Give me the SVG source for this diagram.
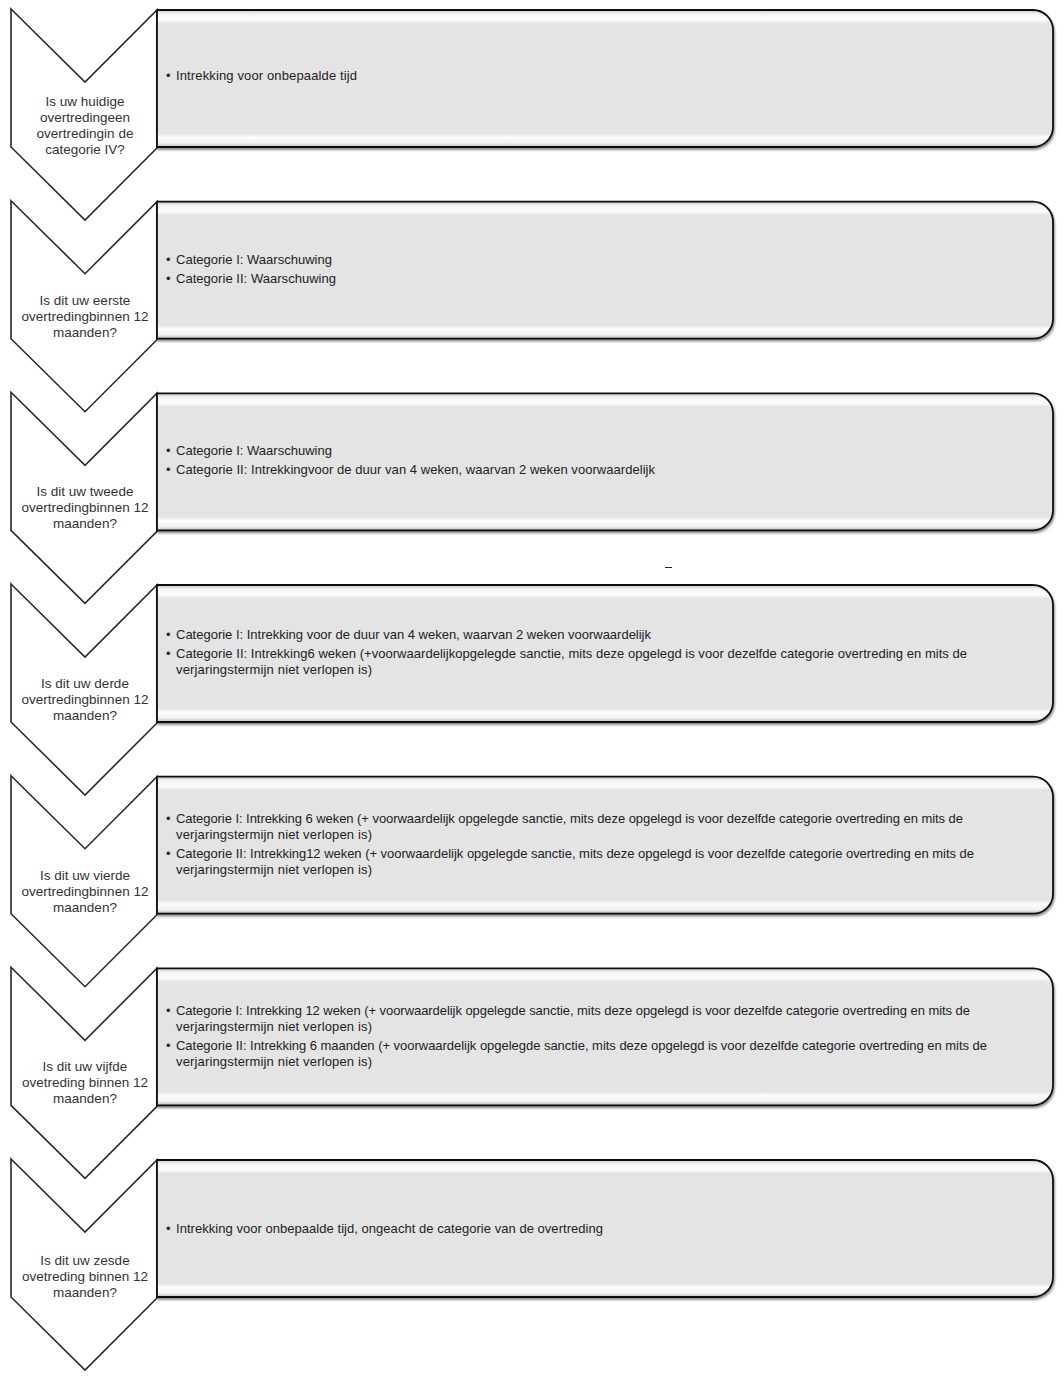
<svg xmlns="http://www.w3.org/2000/svg" width="1063" height="1382" viewBox="0 0 1063 1382">
<defs>
<linearGradient id="bev" x1="0" y1="0" x2="0" y2="1">
<stop offset="0" stop-color="#c8c8c8"/>
<stop offset="0.03" stop-color="#f4f4f4"/>
<stop offset="0.07" stop-color="#fdfdfd"/>
<stop offset="0.1" stop-color="#e4e4e4"/>
<stop offset="0.9" stop-color="#e4e4e4"/>
<stop offset="0.93" stop-color="#fdfdfd"/>
<stop offset="0.97" stop-color="#f2f2f2"/>
<stop offset="1" stop-color="#bdbdbd"/>
</linearGradient>
<filter id="sh" x="-5%" y="-10%" width="110%" height="130%">
<feGaussianBlur in="SourceAlpha" stdDeviation="1.2"/>
<feOffset dx="1" dy="2" result="b"/>
<feComponentTransfer><feFuncA type="linear" slope="0.45"/></feComponentTransfer>
<feMerge><feMergeNode/><feMergeNode in="SourceGraphic"/></feMerge>
</filter>
</defs>
<style>
.chev{fill:#ffffff;stroke:#2a2a2a;stroke-width:1.6;stroke-linejoin:miter}
.box{fill:url(#bev);stroke:#111;stroke-width:1.8}
.ct{font-family:"Liberation Sans",Arial,sans-serif;font-size:13.5px;fill:#333;text-anchor:middle}
.bt{font-family:"Liberation Sans",Arial,sans-serif;font-size:13px;fill:#222}
.bu{font-family:"Liberation Sans",Arial,sans-serif;font-size:13px;fill:#222}
</style>
<rect width="1063" height="1382" fill="#fff"/>

<g id="row1" transform="translate(0,0)">
<g id="chevron1"><path class="chev" d="M11,9 L85,82 L157,10 L157,148 L85,220 L11,147 Z"/>
<text class="ct" x="85" y="106">Is uw huidige</text><text class="ct" x="85" y="122">overtredingeen</text><text class="ct" x="85" y="138">overtredingin de</text><text class="ct" x="85" y="154">categorie IV?</text></g>
<g id="box1"><path class="box" filter="url(#sh)" d="M157,10 H1033 A20,20 0 0 1 1053,30 V127 A20,20 0 0 1 1033,147 H157 Z"/>
<text class="bu" x="166" y="80">•</text><text class="bt" x="176" y="80" textLength="181">Intrekking voor onbepaalde tijd</text></g>
</g>

<g id="row2" transform="translate(0,191.7)">
<g id="chevron2"><path class="chev" d="M11,9 L85,82 L157,10 L157,148 L85,220 L11,147 Z"/>
<text class="ct" x="85" y="113">Is dit uw eerste</text><text class="ct" x="85" y="129">overtredingbinnen 12</text><text class="ct" x="85" y="145">maanden?</text></g>
<g id="box2"><path class="box" filter="url(#sh)" d="M157,10 H1033 A20,20 0 0 1 1053,30 V127 A20,20 0 0 1 1033,147 H157 Z"/>
<text class="bu" x="166" y="72">•</text><text class="bt" x="176" y="72" textLength="156">Categorie I: Waarschuwing</text>
<text class="bu" x="166" y="91">•</text><text class="bt" x="176" y="91" textLength="160">Categorie II: Waarschuwing</text></g>
</g>

<g id="row3" transform="translate(0,383.3)">
<g id="chevron3"><path class="chev" d="M11,9 L85,82 L157,10 L157,148 L85,220 L11,147 Z"/>
<text class="ct" x="85" y="113">Is dit uw tweede</text><text class="ct" x="85" y="129">overtredingbinnen 12</text><text class="ct" x="85" y="145">maanden?</text></g>
<g id="box3"><path class="box" filter="url(#sh)" d="M157,10 H1033 A20,20 0 0 1 1053,30 V127 A20,20 0 0 1 1033,147 H157 Z"/>
<text class="bu" x="166" y="72">•</text><text class="bt" x="176" y="72" textLength="156">Categorie I: Waarschuwing</text>
<text class="bu" x="166" y="91">•</text><text class="bt" x="176" y="91" textLength="479">Categorie II: Intrekkingvoor de duur van 4 weken, waarvan 2 weken voorwaardelijk</text></g>
</g>

<line x1="665" y1="567.5" x2="672" y2="567.5" stroke="#222" stroke-width="1"/>

<g id="row4" transform="translate(0,575)">
<g id="chevron4"><path class="chev" d="M11,9 L85,82 L157,10 L157,148 L85,220 L11,147 Z"/>
<text class="ct" x="85" y="113">Is dit uw derde</text><text class="ct" x="85" y="129">overtredingbinnen 12</text><text class="ct" x="85" y="145">maanden?</text></g>
<g id="box4"><path class="box" filter="url(#sh)" d="M157,10 H1033 A20,20 0 0 1 1053,30 V127 A20,20 0 0 1 1033,147 H157 Z"/>
<text class="bu" x="166" y="64">•</text><text class="bt" x="176" y="64" textLength="475">Categorie I: Intrekking voor de duur van 4 weken, waarvan 2 weken voorwaardelijk</text>
<text class="bu" x="166" y="83">•</text><text class="bt" x="176" y="83" textLength="791">Categorie II: Intrekking6 weken (+voorwaardelijkopgelegde sanctie, mits deze opgelegd is voor dezelfde categorie overtreding en mits de</text>
<text class="bt" x="176" y="99" textLength="196">verjaringstermijn niet verlopen is)</text></g>
</g>

<g id="row5" transform="translate(0,766.7)">
<g id="chevron5"><path class="chev" d="M11,9 L85,82 L157,10 L157,148 L85,220 L11,147 Z"/>
<text class="ct" x="85" y="113">Is dit uw vierde</text><text class="ct" x="85" y="129">overtredingbinnen 12</text><text class="ct" x="85" y="145">maanden?</text></g>
<g id="box5"><path class="box" filter="url(#sh)" d="M157,10 H1033 A20,20 0 0 1 1053,30 V127 A20,20 0 0 1 1033,147 H157 Z"/>
<text class="bu" x="166" y="56">•</text><text class="bt" x="176" y="56" textLength="787">Categorie I: Intrekking 6 weken (+ voorwaardelijk opgelegde sanctie, mits deze opgelegd is voor dezelfde categorie overtreding en mits de</text>
<text class="bt" x="176" y="72" textLength="196">verjaringstermijn niet verlopen is)</text>
<text class="bu" x="166" y="91">•</text><text class="bt" x="176" y="91" textLength="798">Categorie II: Intrekking12 weken (+ voorwaardelijk opgelegde sanctie, mits deze opgelegd is voor dezelfde categorie overtreding en mits de</text>
<text class="bt" x="176" y="107" textLength="196">verjaringstermijn niet verlopen is)</text></g>
</g>

<g id="row6" transform="translate(0,958.3)">
<g id="chevron6"><path class="chev" d="M11,9 L85,82 L157,10 L157,148 L85,220 L11,147 Z"/>
<text class="ct" x="85" y="113">Is dit uw vijfde</text><text class="ct" x="85" y="129">ovetreding binnen 12</text><text class="ct" x="85" y="145">maanden?</text></g>
<g id="box6"><path class="box" filter="url(#sh)" d="M157,10 H1033 A20,20 0 0 1 1053,30 V127 A20,20 0 0 1 1033,147 H157 Z"/>
<text class="bu" x="166" y="57">•</text><text class="bt" x="176" y="57" textLength="794">Categorie I: Intrekking 12 weken (+ voorwaardelijk opgelegde sanctie, mits deze opgelegd is voor dezelfde categorie overtreding en mits de</text>
<text class="bt" x="176" y="73" textLength="196">verjaringstermijn niet verlopen is)</text>
<text class="bu" x="166" y="92">•</text><text class="bt" x="176" y="92" textLength="811">Categorie II: Intrekking 6  maanden (+ voorwaardelijk opgelegde sanctie, mits deze opgelegd is voor dezelfde categorie overtreding en mits de</text>
<text class="bt" x="176" y="108" textLength="196">verjaringstermijn niet verlopen is)</text></g>
</g>

<g id="row7" transform="translate(0,1150)">
<g id="chevron7"><path class="chev" d="M11,9 L85,82 L157,10 L157,148 L85,220 L11,147 Z"/>
<text class="ct" x="85" y="115">Is dit uw zesde</text><text class="ct" x="85" y="131">ovetreding binnen 12</text><text class="ct" x="85" y="147">maanden?</text></g>
<g id="box7"><path class="box" filter="url(#sh)" d="M157,10 H1033 A20,20 0 0 1 1053,30 V127 A20,20 0 0 1 1033,147 H157 Z"/>
<text class="bu" x="166" y="83">•</text><text class="bt" x="176" y="83" textLength="427">Intrekking voor onbepaalde tijd, ongeacht de categorie van de overtreding</text></g>
</g>
</svg>
